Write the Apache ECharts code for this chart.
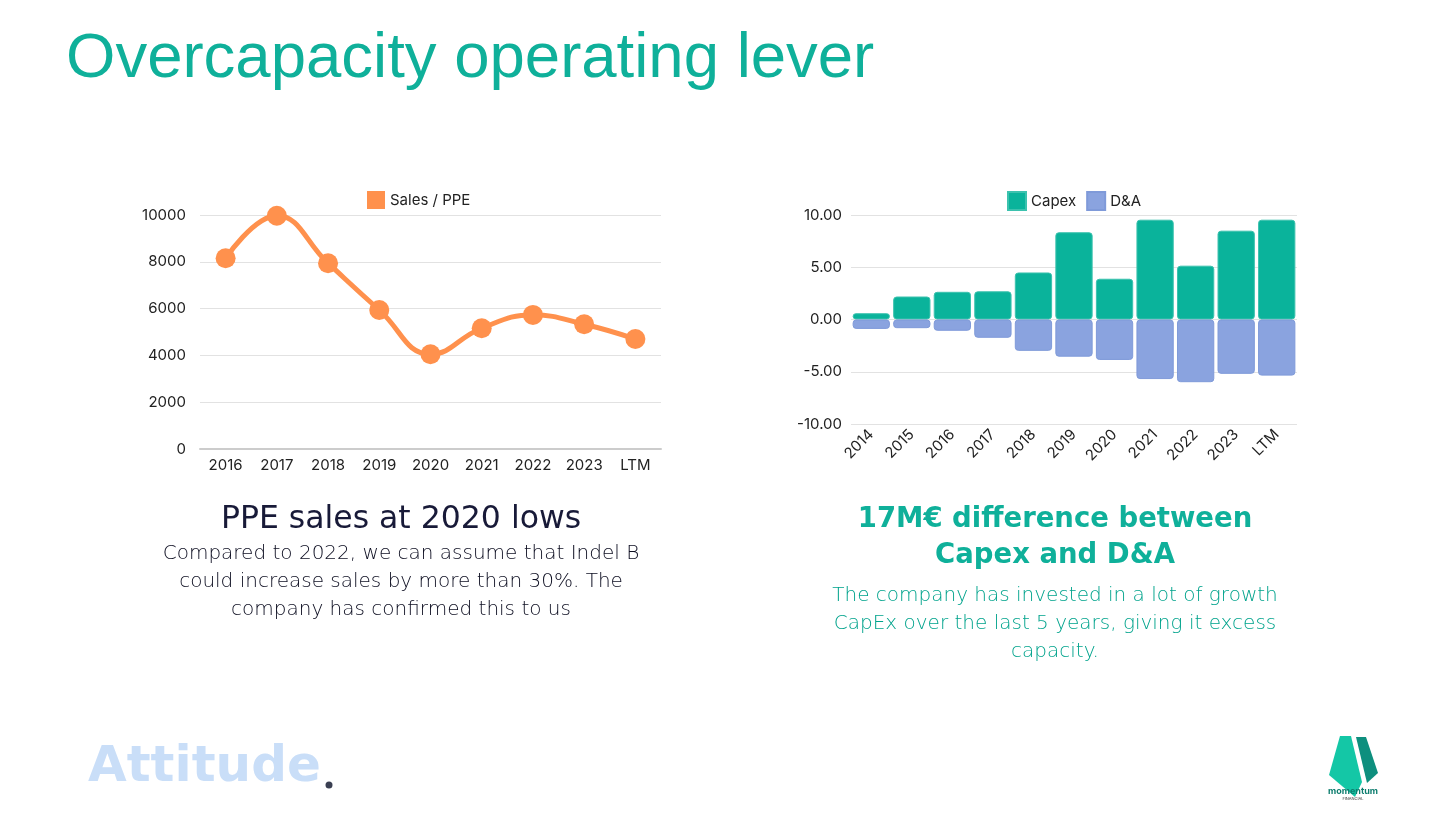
<!DOCTYPE html>
<html>
<head>
<meta charset="utf-8">
<script src="https://cdn.jsdelivr.net/npm/echarts@6/dist/echarts.min.js"></script>
<style>
  html, body { margin: 0; padding: 0; background: #fff; }
  #main { width: 1456px; height: 819px; }
</style>
</head>
<body>
<div id="main"></div>
<script>
// left chart: sales / PPE
var salesYears = ['2016', '2017', '2018', '2019', '2020', '2021', '2022', '2023', 'LTM'];
var salesPpe = [8150, 9970, 7940, 5940, 4050, 5160, 5730, 5330, 4700];

// right chart: capex vs D&A (M€)
var capexYears = ['2014', '2015', '2016', '2017', '2018', '2019', '2020', '2021', '2022', '2023', 'LTM'];
var capex = [0.6, 2.2, 2.65, 2.7, 4.5, 8.35, 3.9, 9.55, 5.15, 8.5, 9.55];
var dna = [-0.9, -0.83, -1.08, -1.75, -3.0, -3.56, -3.87, -5.7, -6.0, -5.2, -5.37];

var teal = '#0fb09a';
var orange = '#ff914d';
var fontBody = '"DejaVu Sans", "Open Sans", sans-serif';
var fontAxis = 'Inter, "Noto Sans", sans-serif';

var chart = echarts.init(document.getElementById('main'));

var option = {
    backgroundColor: '#fff',
    animation: false,
    textStyle: { fontFamily: fontAxis },
    legend: [
        {
            data: ['Sales / PPE'],
            left: 362, top: 186,
            itemWidth: 18, itemHeight: 18, icon: 'rect',
            textStyle: { fontSize: 15, color: '#222' }
        },
        {
            data: ['Capex', 'D&A'],
            left: 1002, top: 186,
            itemWidth: 18, itemHeight: 18, icon: 'rect', itemGap: 10,
            textStyle: { fontSize: 15, color: '#222' }
        }
    ],
    grid: [
        { left: 200, right: 795, top: 215, bottom: 370 },
        { left: 851, right: 159, top: 215, bottom: 395 }
    ],
    xAxis: [
        {
            type: 'category', gridIndex: 0, data: salesYears,
            boundaryGap: true,
            axisLine: { lineStyle: { color: '#ccc', width: 2 } },
            axisTick: { show: false },
            axisLabel: { color: '#222', fontSize: 15, margin: 9 }
        },
        {
            type: 'category', gridIndex: 1, data: capexYears,
            axisLine: { show: false },
            axisTick: { show: false },
            axisLabel: { color: '#222', fontSize: 15, rotate: 45, margin: 8 }
        }
    ],
    yAxis: [
        {
            type: 'value', gridIndex: 0, min: 0, max: 10000, interval: 2000,
            axisLine: { show: false }, axisTick: { show: false },
            splitLine: { lineStyle: { color: '#e2e2e2' } },
            axisLabel: {
                color: '#222', fontSize: 15, margin: 14,
                formatter: function (v) { return String(v); }
            }
        },
        {
            type: 'value', gridIndex: 1, min: -10, max: 10, interval: 5,
            axisLine: { show: false }, axisTick: { show: false },
            splitLine: { lineStyle: { color: '#e2e2e2' } },
            axisLabel: {
                color: '#222', fontSize: 15, margin: 9,
                formatter: function (v) { return v.toFixed(2); }
            }
        }
    ],
    series: [
        {
            name: 'Sales / PPE', type: 'line',
            xAxisIndex: 0, yAxisIndex: 0,
            data: salesPpe,
            smooth: 0.45,
            symbol: 'circle', symbolSize: 20,
            lineStyle: { color: orange, width: 5 },
            itemStyle: { color: orange }
        },
        {
            name: 'Capex', type: 'bar', stack: 'cap',
            xAxisIndex: 1, yAxisIndex: 1,
            data: capex,
            barCategoryGap: '8%',
            itemStyle: { color: '#0ab39b', borderRadius: 3, borderColor: '#3cc2ae', borderWidth: 1 }
        },
        {
            name: 'D&A', type: 'bar', stack: 'cap',
            xAxisIndex: 1, yAxisIndex: 1,
            data: dna,
            barCategoryGap: '8%',
            itemStyle: { color: '#8aa3df', borderRadius: 3, borderColor: '#7f9ad9', borderWidth: 1 }
        }
    ],
    graphic: [
        {
            type: 'text', left: 66, top: 27,
            style: {
                text: 'Overcapacity operating lever',
                font: '63.5px "Liberation Sans", Arial, sans-serif',
                fill: teal
            }
        },
        {
            type: 'text', x: 401, y: 520,
            style: {
                text: 'PPE sales at 2020 lows',
                font: '31.5px ' + fontBody, fill: '#181a38',
                align: 'center', verticalAlign: 'middle'
            }
        },
        {
            type: 'text', x: 401, y: 581.5,
            style: {
                text: 'Compared to 2022, we can assume that Indel B\ncould increase sales by more than 30%. The\ncompany has confirmed this to us',
                font: '200 20px ' + fontBody, fill: '#0c0d20',
                align: 'center', verticalAlign: 'middle', lineHeight: 28
            }
        },
        {
            type: 'text', x: 1055, y: 538,
            style: {
                text: '17M€ difference between\nCapex and D&A',
                font: 'bold 27.5px ' + fontBody, fill: teal,
                align: 'center', verticalAlign: 'middle', lineHeight: 36
            }
        },
        {
            type: 'text', x: 1055, y: 623.5,
            style: {
                text: 'The company has invested in a lot of growth\nCapEx over the last 5 years, giving it excess\ncapacity.',
                font: '200 20px ' + fontBody, fill: '#00a38c',
                align: 'center', verticalAlign: 'middle', lineHeight: 28
            }
        },
        {
            type: 'text', x: 88, y: 768,
            style: {
                text: 'Attitude',
                font: 'bold 50px "DejaVu Sans", sans-serif', fill: '#c9def8',
                verticalAlign: 'middle'
            }
        },
        {
            type: 'circle', shape: { cx: 329, cy: 785, r: 3.5 },
            style: { fill: '#3a3f52' }
        },
        // momentum logo
        {
            type: 'polygon',
            shape: { points: [[1340, 736], [1351, 736], [1362, 782], [1355, 797], [1329, 775]] },
            style: { fill: '#14c7a6' }
        },
        {
            type: 'polygon',
            shape: { points: [[1356, 737], [1366, 737], [1378, 773], [1367, 783]] },
            style: { fill: '#0e8f7e' }
        },
        {
            type: 'text', x: 1353, y: 791,
            style: {
                text: 'momentum', font: '700 9px ' + fontAxis, fill: '#0d7d6e',
                align: 'center', verticalAlign: 'middle'
            }
        },
        {
            type: 'text', x: 1353, y: 799,
            style: {
                text: 'FINANCIAL', font: '4px ' + fontAxis, fill: '#333',
                align: 'center', verticalAlign: 'middle'
            }
        }
    ]
};

chart.setOption(option);
</script>
</body>
</html>
